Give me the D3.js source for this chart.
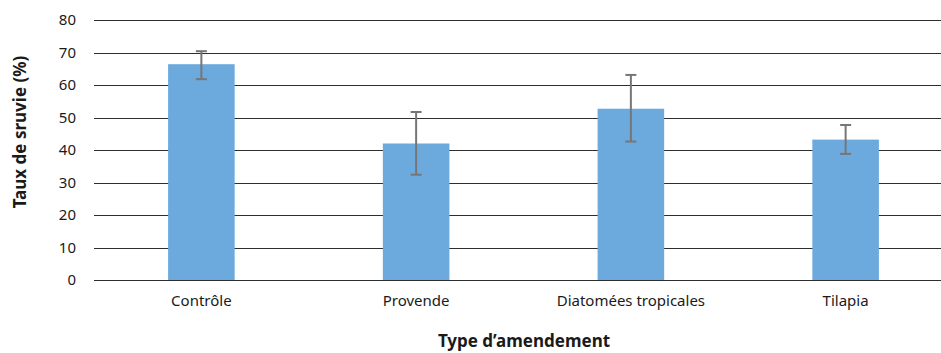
<!doctype html>
<html lang="fr">
<head>
<meta charset="utf-8">
<title>Taux de survie</title>
<script src="https://cdn.jsdelivr.net/npm/d3@7"></script>
<style>
  body { margin: 0; background: #fff; }
  text { font-family: "Noto Sans", "Open Sans", sans-serif; fill: #1a1a1a; }
</style>
</head>
<body>
<div id="viz"></div>
<script>
var categories = ["Contrôle", "Provende", "Diatomées tropicales", "Tilapia"];
var values = [66.4, 42.0, 52.7, 43.2];
var errLow = [61.8, 32.4, 42.6, 38.8];
var errHigh = [70.4, 51.7, 63.1, 47.7];
var yTicks = [0, 10, 20, 30, 40, 50, 60, 70, 80];

var w = 941, h = 353;
var margin = {top: 20, right: -12, bottom: 73, left: 94};
var width = w - margin.left - margin.right,
    height = h - margin.top - margin.bottom;

var svg = d3.select("#viz").append("svg")
    .attr("width", w)
    .attr("height", h);

var g = svg.append("g")
    .attr("transform", "translate(" + margin.left + "," + margin.top + ")");

var xScale = d3.scaleBand()
    .domain(categories)
    .range([0, width])
    .paddingInner(0.69)
    .paddingOuter(0.345);

var yScale = d3.scaleLinear()
    .domain([0, 80])
    .range([height, 0]);

// gridlines
g.selectAll("line.grid")
    .data(yTicks)
    .enter().append("line")
    .attr("class", "grid")
    .attr("x1", 0)
    .attr("x2", width)
    .attr("y1", d => Math.round(yScale(d)) + 0.5)
    .attr("y2", d => Math.round(yScale(d)) + 0.5)
    .style("stroke", "#2e2e2e")
    .style("stroke-width", 1);

// y tick labels
g.selectAll("text.ytick")
    .data(yTicks)
    .enter().append("text")
    .attr("class", "ytick")
    .attr("x", -18)
    .attr("y", d => yScale(d))
    .attr("dy", "0.36em")
    .attr("text-anchor", "end")
    .style("font-size", "15px")
    .text(d => d);

// bars
g.selectAll("rect.bar")
    .data(values)
    .enter().append("rect")
    .attr("class", "bar")
    .attr("x", (d, i) => xScale(categories[i]))
    .attr("width", xScale.bandwidth())
    .attr("y", d => yScale(d))
    .attr("height", d => height - yScale(d))
    .style("fill", "#6caade");

// error bars
var err = g.selectAll("g.err")
    .data(values)
    .enter().append("g")
    .attr("class", "err")
    .attr("transform", (d, i) => "translate(" + (xScale(categories[i]) + xScale.bandwidth() / 2) + ",0)");

err.append("line")
    .attr("x1", 0).attr("x2", 0)
    .attr("y1", (d, i) => yScale(errLow[i]))
    .attr("y2", (d, i) => yScale(errHigh[i]));
err.append("line")
    .attr("x1", -5.5).attr("x2", 5.5)
    .attr("y1", (d, i) => yScale(errLow[i]))
    .attr("y2", (d, i) => yScale(errLow[i]));
err.append("line")
    .attr("x1", -5.5).attr("x2", 5.5)
    .attr("y1", (d, i) => yScale(errHigh[i]))
    .attr("y2", (d, i) => yScale(errHigh[i]));
err.selectAll("line")
    .style("stroke", "#767676")
    .style("stroke-width", 2);

// category labels
g.selectAll("text.xcat")
    .data(categories)
    .enter().append("text")
    .attr("class", "xcat")
    .attr("x", d => xScale(d) + xScale.bandwidth() / 2)
    .attr("y", height + 26)
    .attr("text-anchor", "middle")
    .style("font-size", "15px")
    .text(d => d);

// axis titles
svg.append("text")
    .attr("x", 524)
    .attr("y", 347)
    .attr("text-anchor", "middle")
    .style("font-size", "17px")
    .style("font-weight", "bold")
    .text("Type d’amendement");

svg.append("text")
    .attr("transform", "translate(26,132) rotate(-90)")
    .attr("text-anchor", "middle")
    .style("font-size", "17px")
    .style("font-weight", "bold")
    .text("Taux de sruvie (%)");
</script>
</body>
</html>
